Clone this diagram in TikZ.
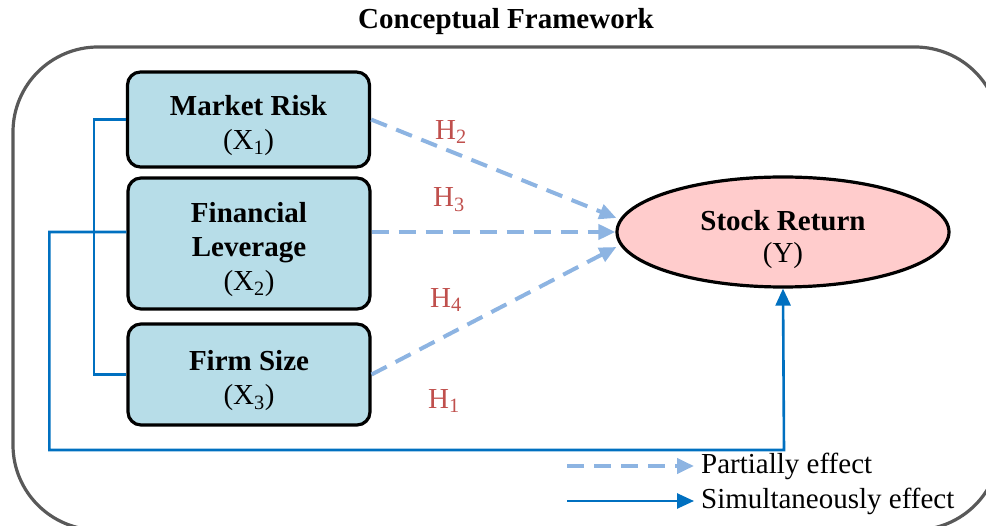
\documentclass[tikz,border=0pt]{standalone}
\usepackage{fontspec}
\setmainfont{Liberation Serif}
\usetikzlibrary{shapes.geometric,arrows.meta}
\definecolor{boxfill}{HTML}{B7DDE8}
\definecolor{ellfill}{HTML}{FFCCCC}
\definecolor{simblue}{HTML}{0070C0}
\definecolor{partblue}{HTML}{8DB4E2}
\definecolor{hred}{HTML}{C0504D}
\definecolor{framegray}{HTML}{595959}
\newcommand{\mytopstrut}[1]{\rule{0pt}{#1}}
\tikzset{
  bigfont/.style={font=\fontsize{29}{34}\selectfont},
  varbox/.style={bigfont, draw=black, line width=3.2pt, fill=boxfill, rounded corners=13pt,
    align=center, inner sep=0pt, minimum width=242pt, text depth=0pt},
  depell/.style={bigfont, ellipse, draw=black, line width=3.2pt, fill=ellfill, align=center,
    inner sep=0pt, minimum width=332pt, minimum height=110pt, text depth=0pt},
  simline/.style={draw=simblue, line width=2.6pt},
  partline/.style={draw=partblue, line width=4pt, dash pattern=on 17pt off 10pt,
    -{Triangle[length=17pt,width=15pt,fill=partblue]}},
  simarrow/.style={simline, -{Triangle[length=17pt,width=15pt,fill=simblue]}},
  hlabel/.style={bigfont, text=hred, inner sep=0pt},
  legtext/.style={bigfont, anchor=west, inner xsep=7pt, inner ysep=0pt},
  frame/.style={draw=framegray, line width=3.2pt, rounded corners=85pt}
}
\begin{document}
\begin{tikzpicture}[x=1pt,y=-1pt]
\useasboundingbox (0,0) rectangle (986,526);
% outer frame
\draw[frame] (13,47) rectangle (1000,530);
% title
\node[bigfont, font=\fontsize{29}{35}\selectfont\bfseries] (title) at (506,22) {Conceptual Framework};
% variable boxes
\node[varbox, minimum height=95pt] (mr) at (248.5,119.5) {\mytopstrut{26pt}\textbf{Market Risk}\\(X\textsubscript{1})};
\node[varbox, minimum height=131pt] (fl) at (249,243.5) {\mytopstrut{26pt}\textbf{Financial}\\\textbf{Leverage}\\(X\textsubscript{2})};
\node[varbox, minimum height=101pt] (fs) at (249,374.5) {\mytopstrut{26pt}\textbf{Firm Size}\\(X\textsubscript{3})};
% dependent
\node[depell] (sr) at (783,232) {\mytopstrut{30pt}\textbf{Stock Return}\\[-2pt](Y)};
% simultaneous connectors
\draw[simline] (mr.west) -- ++(-32,0) |- (fs.west);
\coordinate (bend) at (784,450);
\draw[simarrow] (fl.west |- sr.west) -- ++(-77,0) |- (bend) -- (sr.south);
% partial connectors
\draw[partline] (mr.east) -- ([yshift=14pt,xshift=1pt]sr.west);
\draw[partline] (fl.east |- sr.west) -- (sr.west);
\draw[partline] (fs.east) -- ([yshift=-15pt,xshift=1pt]sr.west);
% hypothesis labels
\node[hlabel] (h2) at (451,132) {H\textsubscript{2}};
\node[hlabel] (h3) at (449,200) {H\textsubscript{3}};
\node[hlabel] (h4) at (446,300) {H\textsubscript{4}};
\node[hlabel] (h1) at (444,401) {H\textsubscript{1}};
% legend
\node[legtext] (pe) at (694,466) {Partially effect};
\node[legtext] (se) at (694,501) {Simultaneously effect};
\coordinate (pes) at (567,466);
\coordinate (ses) at (567,501);
\draw[partline] (pes) -- (pe.west);
\draw[simarrow] (ses) -- (se.west);
\end{tikzpicture}
\end{document}
